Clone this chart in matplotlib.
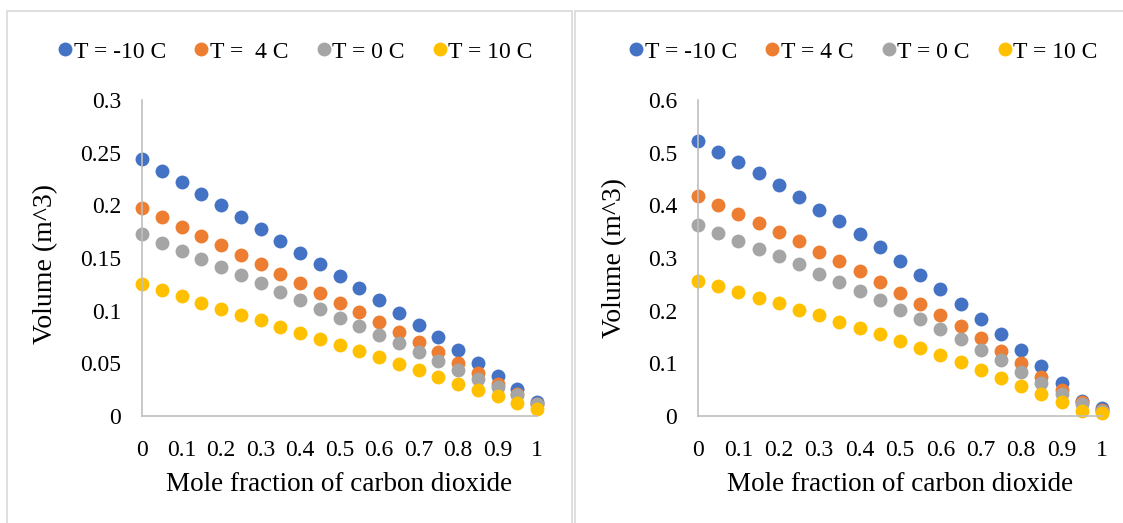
import matplotlib.pyplot as plt
from matplotlib.patches import Rectangle
import numpy as np

plt.rcParams['font.family'] = ['Liberation Serif', 'DejaVu Serif']

# mole fraction of CO2, 0 to 1 in steps of 0.05
x = np.round(np.arange(0, 1.0001, 0.05), 2)

# volume (m^3), first case
v1_m10 = [0.2439, 0.2325, 0.2218, 0.2107, 0.1999, 0.1888, 0.1780, 0.1663, 0.1552, 0.1441,
          0.1331, 0.1213, 0.1099, 0.0982, 0.0862, 0.0748, 0.0627, 0.0507, 0.0380, 0.0260, 0.0133]
v1_p4 = [0.1977, 0.1885, 0.1799, 0.1708, 0.1622, 0.1530, 0.1441, 0.1350, 0.1261, 0.1169,
         0.1077, 0.0985, 0.0890, 0.0798, 0.0700, 0.0605, 0.0504, 0.0409, 0.0307, 0.0212, 0.0117]
v1_0 = [0.1727, 0.1644, 0.1565, 0.1492, 0.1416, 0.1337, 0.1258, 0.1178, 0.1099, 0.1020,
        0.0935, 0.0855, 0.0773, 0.0694, 0.0608, 0.0523, 0.0440, 0.0355, 0.0276, 0.0196, 0.0111]
v1_p10 = [0.1251, 0.1194, 0.1137, 0.1077, 0.1020, 0.0963, 0.0909, 0.0849, 0.0792, 0.0732,
          0.0675, 0.0618, 0.0561, 0.0497, 0.0434, 0.0371, 0.0307, 0.0247, 0.0187, 0.0120, 0.0063]

# volume (m^3), second case
v2_m10 = [0.523, 0.502, 0.482, 0.461, 0.439, 0.415, 0.392, 0.370, 0.345, 0.320,
          0.294, 0.268, 0.241, 0.213, 0.184, 0.155, 0.126, 0.094, 0.062, 0.029, 0.015]
v2_p4 = [0.418, 0.401, 0.384, 0.367, 0.350, 0.332, 0.312, 0.294, 0.275, 0.255,
         0.234, 0.213, 0.192, 0.170, 0.148, 0.124, 0.100, 0.075, 0.050, 0.026, 0.011]
v2_0 = [0.362, 0.348, 0.333, 0.318, 0.303, 0.288, 0.270, 0.254, 0.237, 0.220,
        0.202, 0.184, 0.165, 0.146, 0.126, 0.106, 0.084, 0.062, 0.042, 0.023, 0.010]
v2_p10 = [0.257, 0.247, 0.236, 0.225, 0.214, 0.202, 0.191, 0.179, 0.167, 0.155,
          0.143, 0.130, 0.116, 0.102, 0.087, 0.073, 0.057, 0.042, 0.026, 0.010, 0.005]

labels1 = ['T = -10 C', 'T =  4 C', 'T = 0 C', 'T = 10 C']
labels2 = ['T = -10 C', 'T = 4 C', 'T = 0 C', 'T = 10 C']
colors = ['#4472C4', '#ED7D31', '#A5A5A5', '#FFC000']

xticks = [0, 0.1, 0.2, 0.3, 0.4, 0.5, 0.6, 0.7, 0.8, 0.9, 1]
xticklabels = ['0', '0.1', '0.2', '0.3', '0.4', '0.5', '0.6', '0.7', '0.8', '0.9', '1']
yticks1 = [0, 0.05, 0.1, 0.15, 0.2, 0.25, 0.3]
yticklabels1 = ['0', '0.05', '0.1', '0.15', '0.2', '0.25', '0.3']
yticks2 = [0, 0.1, 0.2, 0.3, 0.4, 0.5, 0.6]
yticklabels2 = ['0', '0.1', '0.2', '0.3', '0.4', '0.5', '0.6']

W, H = 1123, 523
fig = plt.figure(figsize=(W / 100, H / 100), dpi=100)

# chart area borders
grey = '#d9d9d9'
fig.patches.append(Rectangle((7 / W, -0.05), 565 / W, 1.05 - 11 / H, transform=fig.transFigure,
                             fill=False, edgecolor=grey, lw=1.2))
fig.patches.append(Rectangle((575 / W, -0.05), 600 / W, 1.05 - 11 / H, transform=fig.transFigure,
                             fill=False, edgecolor=grey, lw=1.2))


def panel(rect, series, labels, yticks, yticklabels, ylab_xy, leg_x):
    ax = fig.add_axes(rect)
    handles = []
    for ys, c, lab in zip(series, colors, labels):
        h, = ax.plot(x, ys, 'o', color=c, markersize=10, markeredgewidth=0, label=lab,
                     clip_on=False)
        handles.append(h)
    ax.set_xlim(0, 1)
    ax.set_ylim(yticks[0], yticks[-1])
    ax.set_xticks(xticks)
    ax.set_xticklabels(xticklabels)
    ax.set_yticks(yticks)
    ax.set_yticklabels(yticklabels)
    ax.tick_params(length=0, labelsize=17)
    ax.tick_params(axis='x', pad=17)
    ax.tick_params(axis='y', pad=15)
    for s in ['top', 'right']:
        ax.spines[s].set_visible(False)
    for s in ['left', 'bottom']:
        ax.spines[s].set_color('#bfbfbf')
        ax.spines[s].set_linewidth(1.2)
    ax.set_xlabel('Mole fraction of carbon dioxide', fontsize=19.5, labelpad=8)
    ax.set_ylabel('Volume (m^3)', fontsize=20)
    ax.yaxis.set_label_coords(*ylab_xy)
    fig.legend(handles=handles, loc='center', bbox_to_anchor=(leg_x, 1 - 52 / H),
               ncol=4, frameon=False, fontsize=17, handletextpad=-0.15,
               columnspacing=1.0, handlelength=1.0)
    return ax


panel([142 / W, 107 / H, 395 / W, 316 / H], [v1_m10, v1_p4, v1_0, v1_p10],
      labels1, yticks1, yticklabels1, (-0.213, 0.48), 293 / W)
panel([698 / W, 107 / H, 404 / W, 316 / H], [v2_m10, v2_p4, v2_0, v2_p10],
      labels2, yticks2, yticklabels2, (-0.176, 0.5), 861 / W)

fig.savefig('out.png', dpi=100)
